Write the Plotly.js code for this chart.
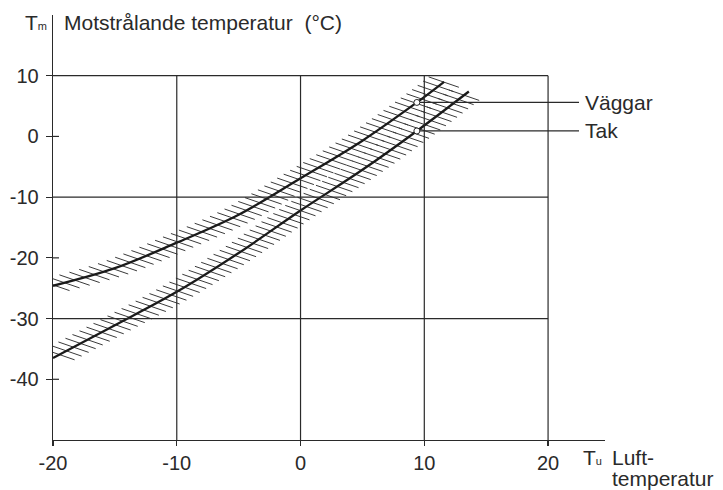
<!DOCTYPE html>
<html><head><meta charset="utf-8">
<script src="https://cdn.plot.ly/plotly-3.0.1.min.js"></script>
<style>body{margin:0;background:#fff}#chart{width:723px;height:490px}</style>
</head><body><div id="chart"></div>
<script>
// ---- data ----
const wallX = [-20, -15, -10, -5, 0, 5, 9.4, 11.6];
const wallY = [-24.6, -21.7, -17.5, -12.9, -6.9, -0.7, 5.6, 9.0];
const roofX = [-20, -15, -10, -5, 0, 5, 9.4, 13.6];
const roofY = [-36.5, -31.1, -25.6, -19.2, -12.2, -5.5, 0.9, 7.4];
const seriesNames = ['Väggar', 'Tak'];
const xTickVals = [-20, -10, 0, 10, 20];
const xTickText = ['-20', '-10', '0', '10', '20'];
const yTickVals = [10, 0, -10, -20, -30, -40];
const yTickText = ['10', '0', '-10', '-20', '-30', '-40'];
const gridX = [-10, 0, 10, 20];
const gridY = [10, -10, -30];
const crossTickY = [0, -20, -40];
const labelPointX = 9.4;
const labelLineEndX = 22.5;
const labelTextX = 22.8;

// ---- layout geometry ----
const xRange = [-20, 24.6], yRange = [-50, 20];
const M = {l: 53, r: 118, t: 15, b: 50};
const W = 723 - M.l - M.r, H = 490 - M.t - M.b;
const FONT = 'Liberation Sans, Arial, Helvetica, sans-serif';
const INK = '#2a2a2a';

function toPx(x, y) {
  return [(x - xRange[0]) / (xRange[1] - xRange[0]) * W,
          (yRange[1] - y) / (yRange[1] - yRange[0]) * H];
}
function toData(p) {
  return [xRange[0] + p[0] / W * (xRange[1] - xRange[0]),
          yRange[1] - p[1] / H * (yRange[1] - yRange[0])];
}
function sampleCurve(xs, ys) {
  const pts = xs.map((x, i) => toPx(x, ys[i]));
  const n = pts.length, out = [];
  for (let i = 0; i < n - 1; i++) {
    const p0 = pts[Math.max(i - 1, 0)], p1 = pts[i], p2 = pts[i + 1], p3 = pts[Math.min(i + 2, n - 1)];
    for (let s = 0; s < 40; s++) {
      const t = s / 40, t2 = t * t, t3 = t2 * t;
      const c = k => 0.5 * ((2 * p1[k]) + (-p0[k] + p2[k]) * t +
        (2 * p0[k] - 5 * p1[k] + 4 * p2[k] - p3[k]) * t2 +
        (-p0[k] + 3 * p1[k] - 3 * p2[k] + p3[k]) * t3);
      out.push([c(0), c(1)]);
    }
  }
  out.push(pts[n - 1]);
  return out;
}
function hatchTrace(xs, ys) {
  const s = sampleCurve(xs, ys);
  const th = 19 * Math.PI / 180, d = [Math.cos(th), Math.sin(th)], nv = [-Math.sin(th), Math.cos(th)];
  const f = s.map(p => nv[0] * p[0] + nv[1] * p[1]);
  const sp = 5.8, L = 32, hx = [], hy = [];
  for (let i = 1; i < s.length; i++) {
    const k0 = Math.floor(f[i - 1] / sp), k1 = Math.floor(f[i] / sp);
    if (k0 !== k1) {
      const lev = Math.max(k0, k1) * sp;
      const t = (lev - f[i - 1]) / (f[i] - f[i - 1]);
      const c = [s[i - 1][0] + t * (s[i][0] - s[i - 1][0]), s[i - 1][1] + t * (s[i][1] - s[i - 1][1])];
      const a = toData([c[0] - d[0] * L / 2, c[1] - d[1] * L / 2]);
      const b = toData([c[0] + d[0] * L / 2, c[1] + d[1] * L / 2]);
      hx.push(a[0], b[0], null); hy.push(a[1], b[1], null);
    }
  }
  return {x: hx, y: hy, type: 'scatter', mode: 'lines', hoverinfo: 'skip',
          line: {color: '#3a3a3a', width: 1}, showlegend: false};
}

const series = [[wallX, wallY], [roofX, roofY]];
const traces = [];
series.forEach(([xs, ys]) => traces.push(hatchTrace(xs, ys)));
series.forEach(([xs, ys], i) => traces.push({
  x: xs, y: ys, type: 'scatter', mode: 'lines', name: seriesNames[i],
  line: {color: '#1a1a1a', width: 2.3, shape: 'spline', smoothing: 1}, showlegend: false
}));
const annotations = [];
series.forEach(([xs, ys], i) => {
  const yAt = ys[xs.indexOf(labelPointX)];
  traces.push({x: [labelPointX, labelLineEndX], y: [yAt, yAt], type: 'scatter', mode: 'lines',
               line: {color: INK, width: 1.2}, showlegend: false, hoverinfo: 'skip'});
  traces.push({x: [labelPointX], y: [yAt], type: 'scatter', mode: 'markers', cliponaxis: false,
               marker: {symbol: 'circle', size: 6, color: '#fff', line: {width: 1, color: INK}},
               showlegend: false, hoverinfo: 'skip'});
  annotations.push({x: labelTextX, y: yAt, xref: 'x', yref: 'y', text: seriesNames[i], showarrow: false,
                    xanchor: 'left', yanchor: 'middle', font: {family: FONT, size: 21, color: INK}});
});

const shapes = [];
const frameTop = Math.max(...gridY), frameRight = Math.max(...gridX);
gridX.forEach(gx => shapes.push({type: 'line', xref: 'x', yref: 'y', x0: gx, x1: gx, y0: yRange[0], y1: frameTop,
                                 line: {color: INK, width: 1.2}}));
gridY.forEach(gy => shapes.push({type: 'line', xref: 'x', yref: 'y', x0: xRange[0], x1: frameRight, y0: gy, y1: gy,
                                 line: {color: INK, width: 1.2}}));
crossTickY.forEach(cy => shapes.push({type: 'line', xref: 'paper', yref: 'y', x0: 0, x1: 6 / W, y0: cy, y1: cy,
                                      line: {color: INK, width: 1.2}}));

const px = p => (p - M.l) / W, py = p => (490 - M.b - p) / H;
annotations.push(
  {x: px(62), y: py(22), xref: 'paper', yref: 'paper', text: 'Motstrålande temperatur\u00a0 (°C)', showarrow: false,
   xanchor: 'left', yanchor: 'middle', font: {family: FONT, size: 21, color: INK}},
  {x: px(49), y: py(22), xref: 'paper', yref: 'paper', text: 'T<span style="font-size:11px">m</span>', showarrow: false,
   xanchor: 'right', yanchor: 'middle', font: {family: FONT, size: 21, color: INK}},
  {x: px(581), y: py(457), xref: 'paper', yref: 'paper', text: 'T<span style="font-size:11px">u</span>', showarrow: false,
   xanchor: 'left', yanchor: 'middle', font: {family: FONT, size: 21, color: INK}},
  {x: px(610), y: py(457), xref: 'paper', yref: 'paper', text: 'Luft-', showarrow: false,
   xanchor: 'left', yanchor: 'middle', font: {family: FONT, size: 21, color: INK}},
  {x: px(610), y: py(478), xref: 'paper', yref: 'paper', text: 'temperatur', showarrow: false,
   xanchor: 'left', yanchor: 'middle', font: {family: FONT, size: 21, color: INK}}
);

const layout = {
  width: 723, height: 490, margin: M, paper_bgcolor: '#fff', plot_bgcolor: '#fff', showlegend: false,
  font: {family: FONT, color: INK},
  xaxis: {range: xRange, showline: true, linecolor: INK, linewidth: 1.3, ticks: 'outside', ticklen: 5,
          tickcolor: INK, tickwidth: 1.2, tickvals: xTickVals, ticktext: xTickText, showgrid: false, zeroline: false,
          tickfont: {family: FONT, size: 20, color: INK}, fixedrange: true},
  yaxis: {range: yRange, showline: true, linecolor: INK, linewidth: 1.3, ticks: 'outside', ticklen: 6,
          tickcolor: INK, tickwidth: 1.2, tickvals: yTickVals, ticktext: yTickText, showgrid: false, zeroline: false,
          tickfont: {family: FONT, size: 20, color: INK}, ticklabelstandoff: 3, fixedrange: true},
  shapes: shapes, annotations: annotations
};
Plotly.newPlot('chart', traces, layout, {staticPlot: true, displayModeBar: false});
</script></body></html>
